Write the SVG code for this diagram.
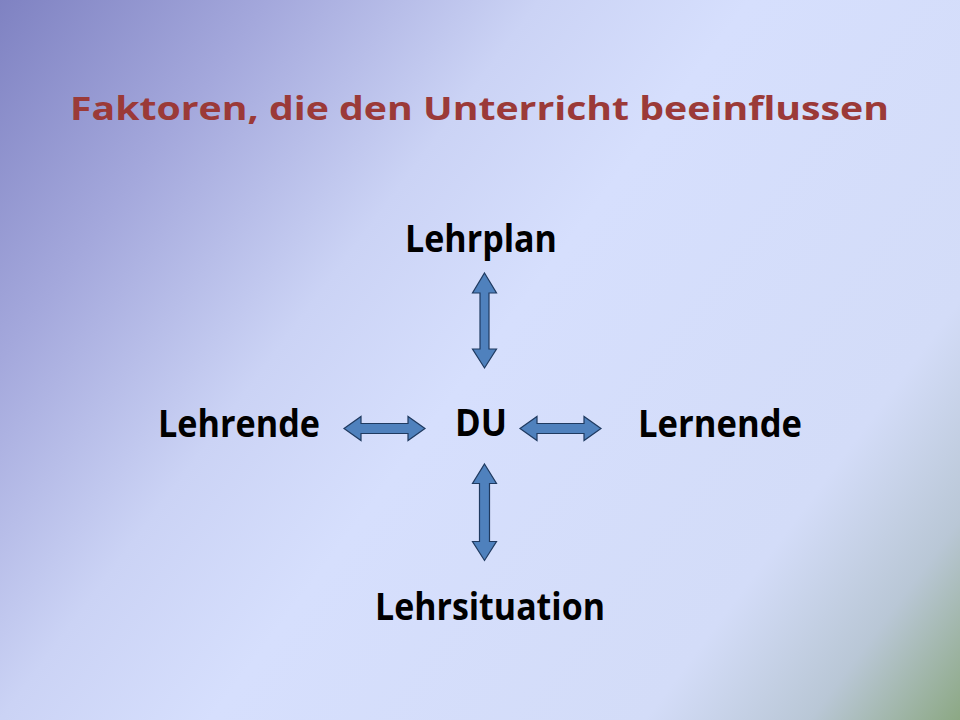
<svg xmlns="http://www.w3.org/2000/svg" width="960" height="720" viewBox="0 0 960 720">
  <defs>
    <linearGradient id="bg" x1="0" y1="0" x2="960" y2="720" gradientUnits="userSpaceOnUse">
      <stop offset="0" stop-color="#7F82C2"/>
      <stop offset="0.18" stop-color="#A4A8DC"/>
      <stop offset="0.36" stop-color="#CBD3F5"/>
      <stop offset="0.5" stop-color="#D6DFFD"/>
      <stop offset="0.79" stop-color="#D3DCF8"/>
      <stop offset="0.9" stop-color="#B9C7D6"/>
      <stop offset="1" stop-color="#8CA884"/>
    </linearGradient>
    <style>
      .title { font-family: "Open Sans", "Liberation Sans", sans-serif; font-weight: bold; font-size: 33px; fill: #9B3A38; }
      .lbl { font-family: "Open Sans", "Liberation Sans", sans-serif; font-weight: bold; font-size: 37px; fill: #000000; }
      .arrow { fill: #4F81BD; stroke: #1F3A60; stroke-width: 1.2; stroke-linejoin: miter; }
    </style>
  </defs>
  <rect x="0" y="0" width="960" height="720" fill="url(#bg)"/>

  <g id="title">
    <text class="title" x="70" y="119.5" textLength="819" lengthAdjust="spacingAndGlyphs">Faktoren, die den Unterricht beeinflussen</text>
  </g>

  <g id="node-lehrplan">
    <text class="lbl" x="405" y="252" textLength="152" lengthAdjust="spacingAndGlyphs">Lehrplan</text>
  </g>
  <g id="node-lehrende">
    <text class="lbl" x="158" y="437" textLength="162" lengthAdjust="spacingAndGlyphs">Lehrende</text>
  </g>
  <g id="node-du">
    <text class="lbl" x="455" y="436" textLength="52" lengthAdjust="spacingAndGlyphs">DU</text>
  </g>
  <g id="node-lernende">
    <text class="lbl" x="638" y="437" textLength="164" lengthAdjust="spacingAndGlyphs">Lernende</text>
  </g>
  <g id="node-lehrsituation">
    <text class="lbl" x="375" y="620" textLength="230" lengthAdjust="spacingAndGlyphs">Lehrsituation</text>
  </g>

  <g id="connectors">
    <path class="arrow" d="M484.5,273 L496.5,293 L489,293 L489,349 L496.5,349 L484.5,368 L472.5,349 L480,349 L480,293 L472.5,293 Z"/>
    <path class="arrow" d="M484.5,464 L496.5,483.5 L489.5,483.5 L489.5,541.5 L496.5,541.5 L484.5,560.5 L472.5,541.5 L479.5,541.5 L479.5,483.5 L472.5,483.5 Z"/>
    <path class="arrow" d="M344,428.5 L361,416.5 L361,423.5 L408,423.5 L408,416.5 L425,428.5 L408,440.5 L408,433.5 L361,433.5 L361,440.5 Z"/>
    <path class="arrow" d="M520,428.5 L537,416.5 L537,423.5 L584,423.5 L584,416.5 L601,428.5 L584,440.5 L584,433.5 L537,433.5 L537,440.5 Z"/>
  </g>
</svg>
